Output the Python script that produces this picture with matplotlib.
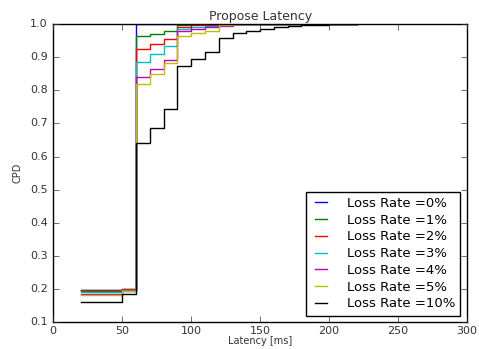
import matplotlib
matplotlib.use("Agg")
import matplotlib.pyplot as plt

plt.style.use('classic')
plt.rcParams['font.family'] = ['DejaVu Sans']

latency = [20, 50, 60, 70, 80, 90, 100, 110, 120, 130, 140, 150, 160, 170, 180, 190, 200, 210, 220]
labels = ["Loss Rate =0%", "Loss Rate =1%", "Loss Rate =2%", "Loss Rate =3%",
          "Loss Rate =4%", "Loss Rate =5%", "Loss Rate =10%"]
colors = ['b', 'g', 'r', 'c', 'm', 'y', 'k']

cpd_0 = [0.198, 0.200, 1.0, 1.0, 1.0, 1.0, 1.0, 1.0, 1.0, 1.0, 1.0, 1.0, 1.0, 1.0, 1.0, 1.0, 1.0, 1.0, 1.0]
cpd_1 = [0.196, 0.198, 0.964, 0.971, 0.978, 0.998, 0.999, 1.0, 1.0, 1.0, 1.0, 1.0, 1.0, 1.0, 1.0, 1.0, 1.0, 1.0, 1.0]
cpd_2 = [0.193, 0.200, 0.924, 0.940, 0.955, 0.992, 0.996, 0.998, 1.0, 1.0, 1.0, 1.0, 1.0, 1.0, 1.0, 1.0, 1.0, 1.0, 1.0]
cpd_3 = [0.190, 0.197, 0.886, 0.911, 0.934, 0.984, 0.990, 0.995, 0.998, 1.0, 1.0, 1.0, 1.0, 1.0, 1.0, 1.0, 1.0, 1.0, 1.0]
cpd_4 = [0.186, 0.195, 0.841, 0.864, 0.893, 0.980, 0.985, 0.990, 0.995, 1.0, 1.0, 1.0, 1.0, 1.0, 1.0, 1.0, 1.0, 1.0, 1.0]
cpd_5 = [0.181, 0.195, 0.818, 0.849, 0.881, 0.965, 0.974, 0.980, 0.998, 1.0, 1.0, 1.0, 1.0, 1.0, 1.0, 1.0, 1.0, 1.0, 1.0]
cpd_10 = [0.160, 0.186, 0.641, 0.687, 0.745, 0.874, 0.894, 0.916, 0.957, 0.972, 0.980, 0.986, 0.990, 0.993, 0.996, 0.998, 0.999, 0.999, 1.0]

series = [cpd_0, cpd_1, cpd_2, cpd_3, cpd_4, cpd_5, cpd_10]

fig = plt.figure(figsize=(4.79, 3.49), dpi=100, facecolor='white')
ax = fig.add_axes([0.111, 0.077, 0.864, 0.854])
for ys, lab, c in zip(series, labels, colors):
    ax.plot(latency, ys, drawstyle='steps-post', color=c, lw=1.0, label=lab)

ax.set_xlim(0, 300)
ax.set_ylim(0.1, 1.0)
ax.set_xticks([0, 50, 100, 150, 200, 250, 300])
ax.set_yticks([0.1, 0.2, 0.3, 0.4, 0.5, 0.6, 0.7, 0.8, 0.9, 1.0])
ax.tick_params(labelsize=8, colors='#333333')
ax.tick_params(axis='x', pad=3)
ax.set_xlabel("Latency [ms]", fontsize=7, color='#333333', labelpad=0)
ax.set_ylabel("CPD", fontsize=7, color='#333333')
ax.set_title("Propose Latency", fontsize=9, color='#333333', pad=3)
leg = ax.legend(loc='lower right', fontsize=9.5, borderaxespad=0.5,
                labelspacing=0.28, handlelength=1.5, handletextpad=1.2)
fig.savefig("out.png", dpi=100, facecolor='white')
